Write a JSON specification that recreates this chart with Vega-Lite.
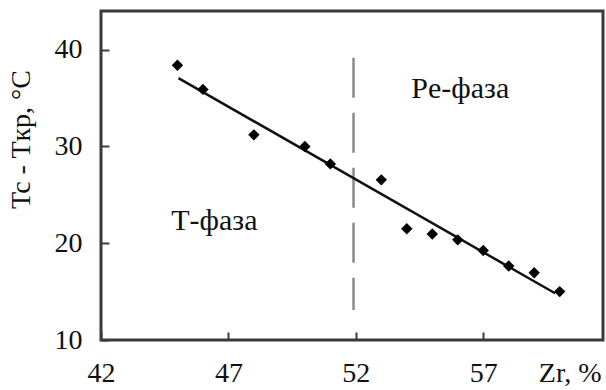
{
  "$schema": "https://vega.github.io/schema/vega-lite/v6.json",
  "width": 502,
  "height": 329,
  "autosize": {"type": "none"},
  "padding": {"left": 101, "top": 11, "right": 3, "bottom": 50},
  "background": "white",
  "config": {
    "view": {"stroke": "#3a3a3a", "strokeWidth": 3},
    "font": "Liberation Serif",
    "axis": {
      "grid": false,
      "domain": false,
      "tickColor": "#3a3a3a",
      "tickWidth": 2,
      "tickSize": -8,
      "labelFont": "Liberation Serif",
      "labelFontSize": 28,
      "labelColor": "#111",
      "labelFlush": false,
      "labelOverlap": false,
      "titleFont": "Liberation Serif",
      "titleFontSize": 28,
      "titleFontWeight": "normal",
      "titleColor": "#111"
    }
  },
  "datasets": {
    "pts": [
      {"zr": 45, "dt": 38.4},
      {"zr": 46, "dt": 35.9},
      {"zr": 48, "dt": 31.2},
      {"zr": 50, "dt": 30.0},
      {"zr": 51, "dt": 28.2},
      {"zr": 53, "dt": 26.55},
      {"zr": 54, "dt": 21.5},
      {"zr": 55, "dt": 20.95},
      {"zr": 56, "dt": 20.35},
      {"zr": 57, "dt": 19.25},
      {"zr": 58, "dt": 17.65},
      {"zr": 59, "dt": 16.95},
      {"zr": 60, "dt": 15.0}
    ],
    "fit": [
      {"zr": 45.04, "dt": 37.06},
      {"zr": 59.82, "dt": 14.83}
    ],
    "border": [
      {"zr": 51.91, "top": 39.16, "bottom": 13.1}
    ],
    "labels": [
      {"zr": 46.45, "dt": 21.4, "text": "Т-фаза"},
      {"zr": 56.1, "dt": 35.0, "text": "Pe-фаза"}
    ]
  },
  "layer": [
    {
      "data": {"name": "border"},
      "mark": {"type": "rule", "color": "#8a8a8a", "strokeWidth": 2.5, "strokeDash": [40, 15]},
      "encoding": {
        "x": {"field": "zr", "type": "quantitative", "scale": {"domain": [42, 61.7], "nice": false, "zero": false},
          "axis": {"values": [42, 47, 52, 57], "labelPadding": 49, "labelBaseline": "alphabetic",
            "title": "Zr, %", "titleAnchor": null, "titleAlign": "right", "titleX": 500, "titleY": 41, "titleBaseline": "alphabetic"}},
        "y": {"field": "top", "type": "quantitative", "scale": {"domain": [10, 44], "nice": false, "zero": false},
          "axis": {"values": [10, 20, 30, 40], "labelPadding": 27, "labelBaseline": "middle",
            "title": "Tc - Tкр, °C", "titleAnchor": null, "titleAngle": -90, "titleAlign": "center", "titleBaseline": "middle", "titleX": -80, "titleY": 128}},
        "y2": {"field": "bottom"}
      }
    },
    {
      "data": {"name": "fit"},
      "mark": {"type": "line", "color": "#111", "strokeWidth": 2.5},
      "encoding": {
        "x": {"field": "zr", "type": "quantitative"},
        "y": {"field": "dt", "type": "quantitative"}
      }
    },
    {
      "data": {"name": "pts"},
      "mark": {"type": "point", "shape": "diamond", "filled": true, "color": "#000", "opacity": 1, "size": 130},
      "encoding": {
        "x": {"field": "zr", "type": "quantitative"},
        "y": {"field": "dt", "type": "quantitative"}
      }
    },
    {
      "data": {"name": "labels"},
      "mark": {"type": "text", "font": "Liberation Serif", "fontSize": 30, "baseline": "alphabetic", "align": "center", "color": "#111"},
      "encoding": {
        "x": {"field": "zr", "type": "quantitative"},
        "y": {"field": "dt", "type": "quantitative"},
        "text": {"field": "text"}
      }
    }
  ]
}
